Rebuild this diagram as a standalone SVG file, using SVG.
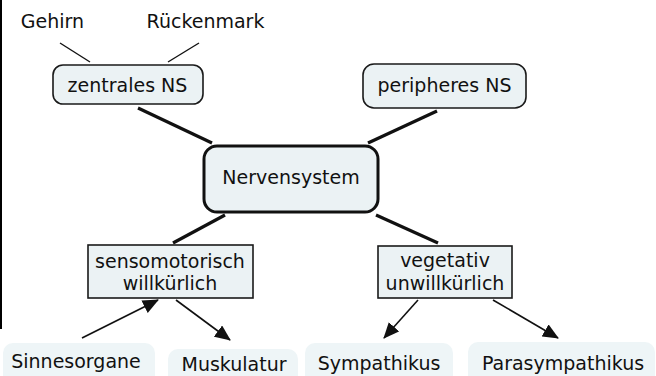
<svg xmlns="http://www.w3.org/2000/svg" width="656" height="376" viewBox="0 0 656 376">
<style>
text{font-family:"DejaVu Sans","Verdana",sans-serif;font-size:19px;fill:#111;text-anchor:middle}
.box{fill:#ebf2f4;stroke:#1a1a1a;stroke-width:1.6}
.main{fill:#ebf2f4;stroke:#111;stroke-width:3}
.leaf{fill:#eef5f7;stroke:none}
.thin{stroke:#111;stroke-width:1.4;fill:none}
.thick{stroke:#111;stroke-width:3.2;fill:none}
.arr{stroke:#111;stroke-width:1.6;fill:none;marker-end:url(#ah)}
</style>
<defs>
<marker id="ah" markerUnits="userSpaceOnUse" markerWidth="16" markerHeight="14" refX="15" refY="7" orient="auto" viewBox="0 0 16 14">
<path d="M0,0 L16,7 L0,14 z" fill="#111"/>
</marker>
</defs>
<rect x="0" y="0" width="2" height="329" fill="#000"/>
<g id="connectors">
<line class="thin" x1="60" y1="43" x2="90" y2="62"/>
<line class="thin" x1="199" y1="43" x2="168" y2="62"/>
<line class="thick" x1="138" y1="108" x2="212" y2="143"/>
<line class="thick" x1="437" y1="111" x2="368" y2="143"/>
<line class="thick" x1="225" y1="215" x2="173" y2="243"/>
<line class="thick" x1="376" y1="215" x2="438" y2="243"/>
<line class="arr" x1="82" y1="338" x2="158" y2="300"/>
<line class="arr" x1="176" y1="300" x2="230" y2="340"/>
<line class="arr" x1="418" y1="300" x2="384" y2="338"/>
<line class="arr" x1="493" y1="300" x2="558" y2="338"/>
</g>
<g id="gehirn"><text x="52.5" y="28">Gehirn</text></g>
<g id="rueckenmark"><text x="205.5" y="28">Rückenmark</text></g>
<g id="zentrales"><rect class="box" x="53" y="65" width="150" height="39" rx="10"/><text x="127.5" y="92">zentrales NS</text></g>
<g id="peripheres"><rect class="box" x="363" y="64" width="163" height="44" rx="11"/><text x="444.5" y="92">peripheres NS</text></g>
<g id="nervensystem"><rect class="main" x="204" y="146" width="174" height="66" rx="13"/><text x="291" y="184">Nervensystem</text></g>
<g id="sensomotorisch"><rect class="box" x="88" y="245" width="165" height="53"/><text x="170" y="268">sensomotorisch</text><text x="170" y="290">willkürlich</text></g>
<g id="vegetativ"><rect class="box" x="378" y="246" width="134" height="52"/><text x="445" y="267">vegetativ</text><text x="445" y="290">unwillkürlich</text></g>
<g id="sinnesorgane"><rect class="leaf" x="3" y="343" width="152" height="50" rx="10"/><text x="76" y="368">Sinnesorgane</text></g>
<g id="muskulatur"><rect class="leaf" x="168" y="349" width="130" height="46" rx="10"/><text x="234" y="371">Muskulatur</text></g>
<g id="sympathikus"><rect class="leaf" x="305" y="343" width="148" height="50" rx="10"/><text x="379" y="370">Sympathikus</text></g>
<g id="parasympathikus"><rect class="leaf" x="468" y="342" width="187" height="50" rx="10"/><text x="563" y="370">Parasympathikus</text></g>
</svg>
